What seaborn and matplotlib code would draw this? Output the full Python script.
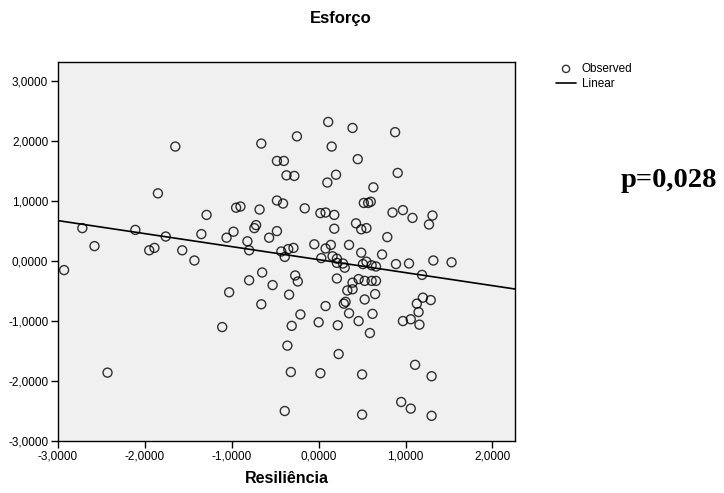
import numpy as np
import pandas as pd
import matplotlib
matplotlib.use("Agg")
import matplotlib.pyplot as plt
from matplotlib.ticker import FuncFormatter
import seaborn as sns

# values (x = Resiliência, y = Esforço)
resiliencia = [
    -2.93, -2.72, -2.58, -2.43, -2.11, -1.95, -1.89, -1.85, -1.76, -1.65,
    -1.57, -1.43, -1.35, -1.29, -1.11, -1.06, -1.03, -0.98, -0.95, -0.90,
    -0.82, -0.80, -0.80, -0.74, -0.72, -0.68, -0.66, -0.65, -0.66, -0.57,
    -0.53, -0.48, -0.48, -0.48, -0.43, -0.40, -0.41, -0.39, -0.39, -0.37,
    -0.36, -0.34, -0.35, -0.32, -0.31, -0.29, -0.28, -0.27, -0.25, -0.24,
    -0.21, -0.16, -0.05, 0.00, 0.02, 0.02, 0.03, 0.08, 0.08, 0.08,
    0.11, 0.10, 0.15, 0.14, 0.18, 0.18, 0.20, 0.16, 0.21, 0.21,
    0.21, 0.22, 0.23, 0.28, 0.30, 0.29, 0.31, 0.33, 0.35, 0.35,
    0.39, 0.39, 0.39, 0.43, 0.45, 0.46, 0.46, 0.49, 0.55, 0.49,
    0.51, 0.55, 0.61, 0.66, 0.53, 0.61, 0.66, 0.53, 0.65, 0.62,
    0.59, 0.50, 0.50, 0.52, 0.57, 0.60, 0.63, 0.73, 0.79, 0.85,
    0.88, 0.89, 0.91, 0.97, 0.97, 0.95, 1.04, 1.06, 1.06, 1.08,
    1.11, 1.13, 1.15, 1.16, 1.19, 1.20, 1.27, 1.29, 1.30, 1.30,
    1.31, 1.32, 1.53,
]
esforco = [
    -0.15, 0.55, 0.25, -1.86, 0.52, 0.18, 0.22, 1.13, 0.41, 1.91,
    0.18, 0.01, 0.45, 0.77, -1.10, 0.39, -0.52, 0.49, 0.89, 0.91,
    0.33, 0.18, -0.32, 0.55, 0.60, 0.86, 1.96, -0.19, -0.72, 0.39,
    -0.40, 1.67, 1.01, 0.50, 0.16, 1.67, 0.96, -2.50, 0.07, 1.43,
    -1.41, -0.56, 0.20, -1.85, -1.08, 0.22, 1.42, -0.24, 2.08, -0.34,
    -0.89, 0.88, 0.28, -1.02, -1.87, 0.80, 0.05, 0.81, 0.21, -0.75,
    2.32, 1.31, 1.91, 0.27, 0.77, 0.54, 1.44, 0.08, 0.04, -0.03,
    -0.29, -1.07, -1.55, -0.04, -0.11, -0.71, -0.68, -0.49, -0.87, 0.27,
    2.22, -0.36, -0.47, 0.63, 1.70, -0.30, -1.00, 0.53, 0.55, 0.14,
    -0.05, -0.01, -0.07, -0.09, -0.33, -0.33, -0.33, -0.64, -0.55, -0.88,
    -1.20, -1.89, -2.56, 0.97, 0.97, 0.99, 1.23, 0.11, 0.40, 0.81,
    2.15, -0.05, 1.47, 0.85, -1.00, -2.35, -0.04, -2.46, -0.97, 0.72,
    -1.73, -0.71, -0.85, -1.06, -0.23, -0.61, 0.61, -0.65, -1.92, -2.58,
    0.76, 0.01, -0.02,
]
x_ticks = [-3, -2, -1, 0, 1, 2]
y_ticks = [-3, -2, -1, 0, 1, 2, 3]

df = pd.DataFrame({"Resiliência": resiliencia, "Esforço": esforco})

sns.set_style("ticks")
plt.rcParams["font.family"] = ["Liberation Sans", "DejaVu Sans"]
plt.rcParams["axes.unicode_minus"] = False
plt.rcParams["text.color"] = "black"
plt.rcParams["axes.labelcolor"] = "black"

fig = plt.figure(figsize=(7.24, 4.93), dpi=100)
ax = fig.add_axes([58 / 724, 52 / 493, 457 / 724, 379 / 493])
ax.set_facecolor("#F0F0F0")
ax.set_xlim(-3.0, 2.26)
ax.set_ylim(-3.0, 3.32)

sns.regplot(data=df, x="Resiliência", y="Esforço", ax=ax, ci=None,
            truncate=False, color="black",
            scatter_kws=dict(facecolors="none", s=42, linewidths=1.0),
            line_kws=dict(linewidth=1.2))

fmt = FuncFormatter(lambda v, p: f"{v:.4f}".replace(".", ","))
ax.set_xticks(x_ticks)
ax.set_yticks(y_ticks)
ax.xaxis.set_major_formatter(fmt)
ax.yaxis.set_major_formatter(fmt)
ax.tick_params(labelsize=8.5, length=5, width=1, color="black",
               labelcolor="black", pad=2)
for s in ax.spines.values():
    s.set_color("black")
    s.set_linewidth(1)

ax.set_xlabel("Resiliência", fontsize=11.5, fontweight="bold", labelpad=6,
              color="black")
ax.set_ylabel("")
fig.text(341 / 724, 1 - 18.5 / 493, "Esforço", fontsize=12,
         fontweight="bold", ha="center", va="center", color="black")

handles = [ax.collections[0], ax.lines[0]]
fig.legend(handles, ["Observed", "Linear"], loc="upper left",
           bbox_to_anchor=(556 / 724, 1 - 63 / 493),
           frameon=False, fontsize=8.5, borderpad=0, borderaxespad=0,
           handlelength=1.7, handletextpad=0.5, labelspacing=0.25,
           markerscale=0.8, scatterpoints=1)

fig.text(621 / 724, 1 - 187 / 493, "p=0,028", fontsize=20.5,
         fontweight="bold", family=["Liberation Serif", "DejaVu Serif"],
         ha="left", va="baseline", color="black")

fig.savefig("out.png", dpi=100)
